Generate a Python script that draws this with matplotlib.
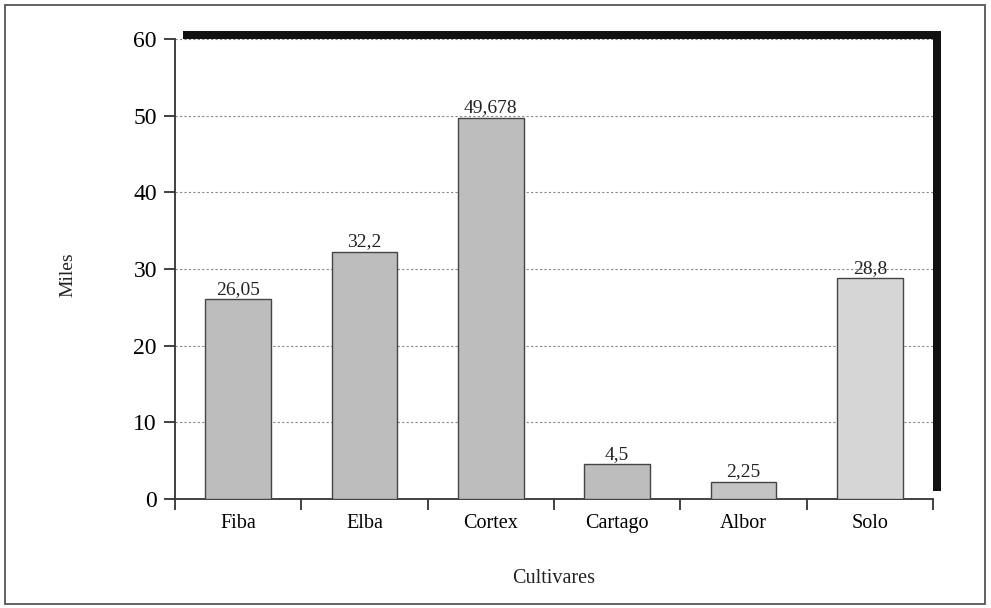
import matplotlib.pyplot as plt
from matplotlib.patches import Rectangle
from matplotlib.transforms import ScaledTranslation

plt.rcParams['font.family'] = ['Liberation Serif', 'DejaVu Serif']

cultivares = ["Fiba", "Elba", "Cortex", "Cartago", "Albor", "Solo"]
miles = [26.05, 32.2, 49.678, 4.5, 2.25, 28.8]
etiquetas = ["26,05", "32,2", "49,678", "4,5", "2,25", "28,8"]
colores = ["#bdbdbd", "#bdbdbd", "#bdbdbd", "#bdbdbd", "#c4c4c4", "#d6d6d6"]
yticks = [0, 10, 20, 30, 40, 50, 60]

fig = plt.figure(figsize=(9.91, 6.08), dpi=100)
fig.patch.set_facecolor("white")

# marco exterior
fig.patches.append(Rectangle((0.005, 0.007), 0.989, 0.985, transform=fig.transFigure,
                             fill=False, edgecolor="#555555", linewidth=1.3))

ax = fig.add_axes([0.1766, 0.1793, 0.7649, 0.7566])
ax.set_facecolor("white")

# sombra negra detras del area de trazado
sombra = Rectangle((0, 0), 1, 1, facecolor="#111111", edgecolor="none",
                   transform=ax.transAxes + ScaledTranslation(7.5 / 100, 7.5 / 100, fig.dpi_scale_trans),
                   zorder=-10, clip_on=False)
fig.patches.append(sombra)
ax.set_zorder(1)

x = list(range(len(cultivares)))
ax.bar(x, miles, width=0.52, color=colores, edgecolor="#444444", linewidth=1.0, zorder=3)

for xi, v, t in zip(x, miles, etiquetas):
    ax.text(xi, v + 0.2, t, ha="center", va="bottom", fontsize=14, color="#222222", zorder=4)

ax.set_xlim(-0.5, len(cultivares) - 0.5)
ax.set_ylim(0, 60)
ax.set_yticks(yticks)
ax.set_yticklabels([str(t) for t in yticks], fontsize=17)
ax.set_xticks(x)
ax.set_xticklabels(cultivares, fontsize=14.5)
ax.set_xticks([i - 0.5 for i in range(len(cultivares) + 1)], minor=True)

ax.tick_params(axis="x", which="major", length=0, pad=11)
ax.tick_params(axis="x", which="minor", length=8, width=1.3, direction="out", color="#333333")
ax.tick_params(axis="y", length=8, width=1.3, direction="out", color="#333333", pad=5)

ax.yaxis.grid(True, linestyle=(0, (2, 2)), color="#888888", linewidth=0.8, zorder=1)
ax.set_axisbelow(True)

for s in ["top", "right"]:
    ax.spines[s].set_visible(False)
for s in ["left", "bottom"]:
    ax.spines[s].set_color("#333333")
    ax.spines[s].set_linewidth(1.3)

fig.text(0.069, 0.548, "Miles", rotation=90, ha="center", va="center", fontsize=14, color="#222222")
fig.text(0.559, 0.049, "Cultivares", ha="center", va="center", fontsize=14.5, color="#222222")

fig.savefig("out.png", dpi=100)
